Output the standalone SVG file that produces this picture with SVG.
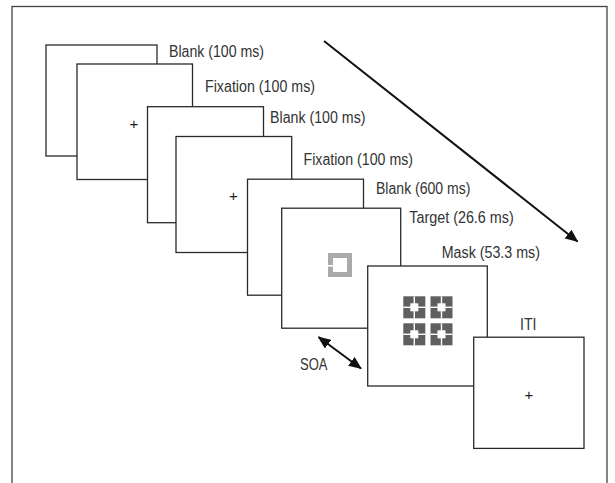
<svg xmlns="http://www.w3.org/2000/svg" width="615" height="483" viewBox="0 0 615 483">
<style>
.frame{fill:#fff;stroke:#2a2a2a;stroke-width:1.3}
.lbl{font-family:"Liberation Sans",Arial,sans-serif;font-size:16px;fill:#333}
.plus{font-family:"Liberation Sans",Arial,sans-serif;font-size:15px;fill:#222;text-anchor:middle}
.conn{stroke:#111;stroke-width:2;fill:none}
</style>
<defs>
<marker id="ah" viewBox="0 0 13 11" refX="12" refY="5.5" markerWidth="13" markerHeight="11" markerUnits="userSpaceOnUse" orient="auto-start-reverse">
<path d="M0,0 L13,5.5 L0,11 z" fill="#111"/>
</marker>
<g id="maskTile">
<rect x="0" y="0" width="22" height="22" fill="#5f5f5f"/>
<rect x="7" y="7" width="8" height="8" fill="#fff"/>
<rect x="10.3" y="0" width="1.4" height="22" fill="#fff"/>
<rect x="0" y="10.3" width="22" height="1.4" fill="#fff"/>
</g>
</defs>
<rect x="12" y="6.5" width="595" height="490" fill="#fff" stroke="#444" stroke-width="1.3"/>

<g id="blank1">
<rect class="frame" x="46" y="45" width="111" height="111"/>
<text class="lbl" x="169" y="57" textLength="95" lengthAdjust="spacingAndGlyphs">Blank (100 ms)</text>
</g>
<g id="fixation1">
<rect class="frame" x="77" y="64" width="115.5" height="115.5"/>
<text class="plus" x="134" y="129">+</text>
<text class="lbl" x="205" y="92" textLength="110" lengthAdjust="spacingAndGlyphs">Fixation (100 ms)</text>
</g>
<g id="blank2">
<rect class="frame" x="147.5" y="106.7" width="116" height="116"/>
<text class="lbl" x="270" y="122.5" textLength="95.5" lengthAdjust="spacingAndGlyphs">Blank (100 ms)</text>
</g>
<g id="fixation2">
<rect class="frame" x="176" y="136.5" width="115.7" height="116"/>
<text class="plus" x="233.5" y="201">+</text>
<text class="lbl" x="303.5" y="165" textLength="109.5" lengthAdjust="spacingAndGlyphs">Fixation (100 ms)</text>
</g>
<g id="blank3">
<rect class="frame" x="247.5" y="179.2" width="116" height="116"/>
<text class="lbl" x="376" y="194" textLength="94.5" lengthAdjust="spacingAndGlyphs">Blank (600 ms)</text>
</g>
<g id="target">
<rect class="frame" x="281.7" y="208.2" width="119" height="120"/>
<rect x="328" y="253" width="24" height="24" fill="#aaa"/>
<rect x="333" y="258" width="14" height="14" fill="#fff"/>
<rect x="328" y="265" width="5" height="1.6" fill="#fff"/>
<text class="lbl" x="409.3" y="223" textLength="104.4" lengthAdjust="spacingAndGlyphs">Target (26.6 ms)</text>
</g>
<g id="mask">
<rect class="frame" x="367.7" y="266" width="119.6" height="120"/>
<use href="#maskTile" x="403.3" y="296.3"/>
<use href="#maskTile" x="430.5" y="296.3"/>
<use href="#maskTile" x="403.3" y="323.3"/>
<use href="#maskTile" x="430.5" y="323.3"/>
<text class="lbl" x="441.7" y="257.5" textLength="98.3" lengthAdjust="spacingAndGlyphs">Mask (53.3 ms)</text>
</g>
<g id="iti">
<rect class="frame" x="473.7" y="337.2" width="110.3" height="111.2"/>
<text class="plus" x="529" y="400">+</text>
<text class="lbl" x="520" y="329.5" textLength="16.5" lengthAdjust="spacingAndGlyphs">ITI</text>
</g>

<g id="connectors">
<line class="conn" x1="324" y1="41" x2="577.5" y2="241.5" marker-end="url(#ah)"/>
<line class="conn" x1="318.5" y1="337" x2="361" y2="368.5" marker-start="url(#ah)" marker-end="url(#ah)"/>
<text class="lbl" x="300" y="369.5" textLength="27.5" lengthAdjust="spacingAndGlyphs">SOA</text>
</g>
</svg>
